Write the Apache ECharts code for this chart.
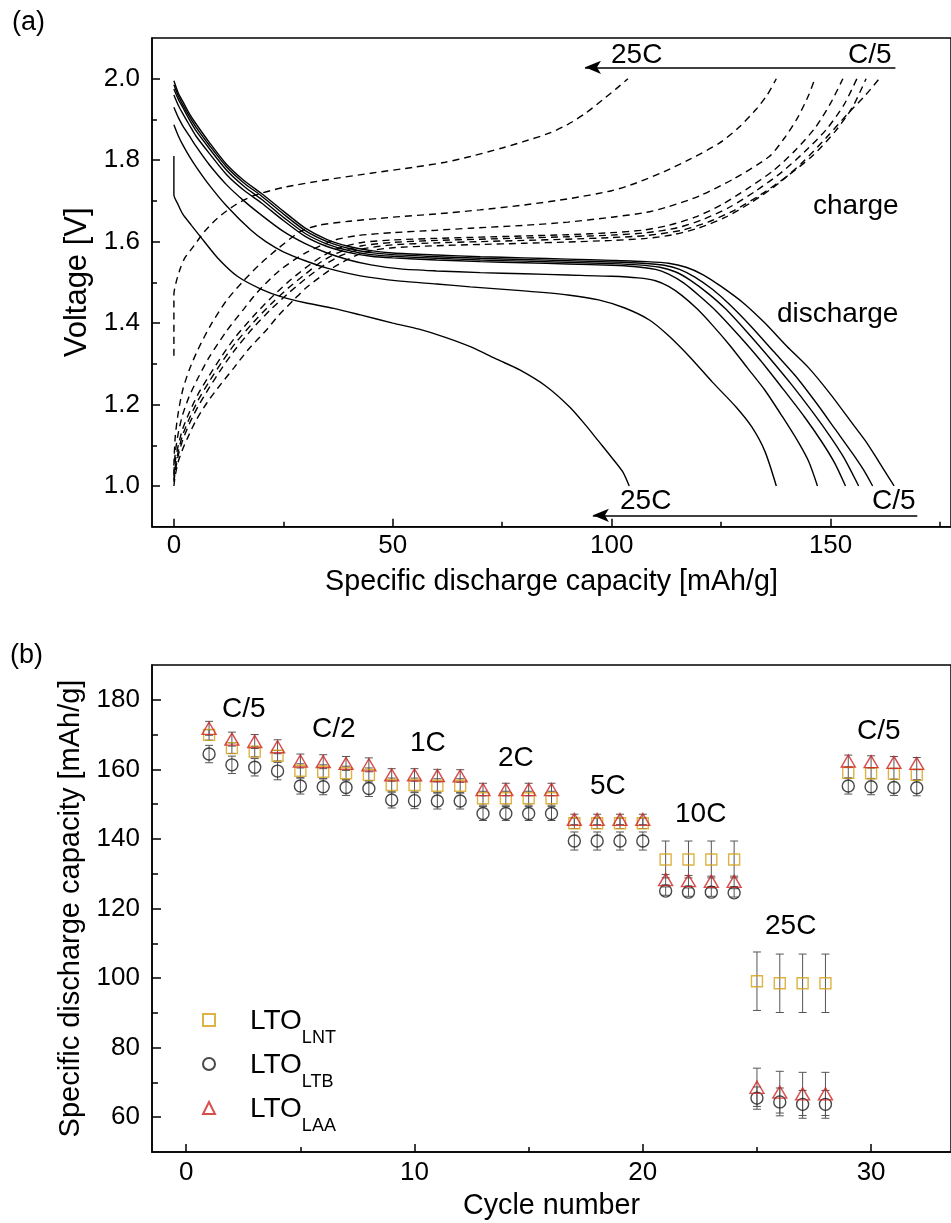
<!DOCTYPE html>
<html>
<head>
<meta charset="utf-8">
<script src="https://cdn.jsdelivr.net/npm/echarts@6/dist/echarts.min.js"></script>
<style>
html,body{margin:0;padding:0;background:#fff;}
#chart{width:951px;height:1223px;}
</style>
</head>
<body>
<div id="chart"></div>
<script>
// ---------- Panel (a): voltage profiles ----------
// discharge curves (solid) [capacity mAh/g, voltage V]
const disC5 = [[0,1.995],[1,1.965],[2,1.945],[3.5,1.915],[5,1.89],[8,1.845],[12,1.79],[16,1.75],[20,1.718],[25,1.675],[30,1.633],[35,1.605],[40,1.588],[45,1.578],[50,1.572],[60,1.567],[70,1.563],[80,1.56],[90,1.557],[100,1.554],[108,1.551],[113,1.547],[117,1.537],[121,1.518],[125,1.49],[130,1.45],[135,1.4],[140,1.343],[145,1.29],[150,1.225],[155,1.153],[158,1.11],[161,1.06],[164.5,1.0]];
const disC2 = [[0,1.985],[1,1.958],[2,1.937],[3.5,1.908],[5,1.882],[8,1.838],[12,1.784],[16,1.744],[20,1.712],[25,1.668],[30,1.627],[35,1.6],[40,1.583],[45,1.573],[50,1.568],[60,1.563],[70,1.559],[80,1.556],[90,1.553],[100,1.55],[107,1.547],[112,1.542],[115.5,1.532],[119,1.513],[123,1.483],[127,1.445],[132,1.39],[137,1.33],[142,1.27],[147,1.2],[151,1.14],[155,1.08],[157.5,1.04],[159.6,1.0]];
const dis1C = [[0,1.975],[1,1.95],[2,1.93],[3.5,1.9],[5,1.873],[8,1.83],[12,1.776],[16,1.736],[20,1.704],[25,1.66],[30,1.62],[35,1.594],[40,1.578],[45,1.568],[50,1.564],[60,1.559],[70,1.555],[80,1.552],[90,1.549],[100,1.546],[106,1.543],[111,1.537],[114.5,1.526],[118,1.505],[122,1.473],[126,1.435],[131,1.377],[136,1.315],[141,1.25],[146,1.18],[150,1.12],[153,1.07],[156.4,1.0]];
const dis2C = [[0,1.96],[1,1.935],[2,1.915],[3.5,1.887],[5,1.86],[8,1.818],[12,1.765],[16,1.726],[20,1.695],[25,1.652],[30,1.613],[35,1.588],[40,1.573],[45,1.564],[50,1.56],[60,1.555],[70,1.551],[80,1.548],[90,1.545],[100,1.542],[105,1.539],[110,1.532],[113,1.52],[116.5,1.498],[120,1.467],[124,1.428],[129,1.37],[134,1.308],[139,1.24],[144,1.17],[148,1.108],[151,1.055],[153.4,1.0]];
const dis5C = [[0,1.93],[1,1.905],[2,1.885],[3.5,1.86],[5,1.835],[8,1.79],[12,1.74],[16,1.7],[20,1.665],[25,1.625],[30,1.595],[35,1.572],[40,1.555],[45,1.543],[51.7,1.533],[60,1.528],[70,1.524],[80,1.521],[90,1.518],[100,1.515],[106,1.511],[110,1.504],[113,1.49],[116,1.468],[119.5,1.435],[123,1.395],[127,1.345],[131,1.29],[135,1.235],[139,1.17],[142.5,1.11],[145,1.06],[147,1.0]];
const dis10C = [[0,1.887],[1,1.86],[2,1.838],[3.5,1.81],[5,1.785],[8,1.74],[12,1.688],[17.5,1.629],[21,1.6],[25,1.575],[30,1.553],[35,1.535],[42.6,1.516],[51.7,1.503],[60,1.496],[67.7,1.489],[80,1.479],[90,1.469],[97,1.457],[103,1.437],[108.7,1.407],[113.2,1.367],[118,1.315],[123,1.255],[128.4,1.194],[132,1.145],[135,1.085],[137.6,1.0]];
const dis25C = [[0,1.81],[0,1.715],[1,1.69],[2,1.668],[4,1.64],[6,1.613],[10,1.56],[14.5,1.515],[20,1.483],[25,1.463],[30,1.45],[36.5,1.436],[42.6,1.42],[50,1.4],[56,1.385],[62,1.365],[67.7,1.342],[74,1.31],[79,1.285],[85,1.245],[90.4,1.194],[94,1.15],[97,1.11],[100,1.07],[102.5,1.035],[104,1.0]];
// charge curves (dashed)
const chC5 = [[0,1.0],[0.3,1.025],[1,1.06],[2,1.09],[3,1.115],[5,1.16],[7.6,1.205],[10,1.24],[13.7,1.29],[17,1.335],[21.3,1.385],[24,1.42],[27.4,1.457],[30,1.485],[33.5,1.514],[36.5,1.537],[39.5,1.555],[42.5,1.57],[45.6,1.579],[50,1.585],[60,1.59],[70,1.593],[80,1.596],[90,1.599],[100,1.603],[108,1.608],[114,1.617],[120,1.634],[126,1.66],[132,1.697],[138,1.742],[143.6,1.795],[149,1.855],[154,1.915],[158,1.96],[161.1,2.0]];
const chC2 = [[0,1.01],[0.3,1.035],[1,1.075],[2,1.112],[3.5,1.152],[5.5,1.195],[8,1.24],[11,1.29],[14,1.335],[18,1.387],[22,1.432],[26,1.472],[30,1.508],[34,1.54],[38,1.565],[43,1.582],[50,1.592],[60,1.597],[70,1.6],[80,1.603],[90,1.606],[100,1.61],[108,1.615],[116,1.628],[122,1.648],[128,1.677],[134,1.715],[140,1.76],[146,1.812],[151,1.87],[155,1.93],[158.1,2.0]];
const ch1C = [[0,1.015],[0.3,1.045],[1,1.085],[2,1.125],[3.5,1.165],[5.5,1.21],[8,1.255],[11,1.305],[14,1.35],[18,1.4],[22,1.445],[26,1.485],[30,1.52],[34,1.553],[38,1.575],[43,1.59],[50,1.598],[60,1.603],[70,1.606],[80,1.609],[90,1.612],[100,1.616],[108,1.622],[115,1.634],[121,1.655],[127,1.685],[133,1.725],[139,1.772],[144,1.82],[149,1.875],[153,1.935],[156,2.0]];
const ch2C = [[0,1.025],[0.3,1.06],[1,1.1],[2,1.14],[3.5,1.18],[5.5,1.225],[8,1.27],[11,1.32],[14,1.365],[18,1.415],[22,1.46],[26,1.5],[30,1.535],[34,1.565],[38,1.585],[43,1.598],[50,1.604],[60,1.608],[70,1.611],[80,1.614],[90,1.617],[100,1.622],[107,1.628],[113,1.64],[119,1.66],[125,1.69],[131,1.73],[137,1.775],[142,1.825],[146.5,1.88],[150,1.94],[152.8,2.0]];
const ch5C = [[0,1.03],[0.3,1.08],[1,1.13],[2,1.175],[3.5,1.22],[5.5,1.265],[8,1.315],[12,1.38],[16,1.435],[19,1.475],[24,1.528],[30,1.572],[36.5,1.603],[42,1.615],[50,1.622],[60,1.628],[67.7,1.633],[80,1.64],[90,1.648],[100,1.66],[108,1.672],[113,1.686],[120,1.712],[128,1.755],[136,1.809],[139.5,1.855],[142.5,1.905],[145,1.96],[146.4,2.0]];
const ch10C = [[0,1.05],[0.3,1.12],[1,1.18],[2,1.235],[3.5,1.285],[5.5,1.335],[8.4,1.395],[12,1.455],[16,1.505],[20,1.548],[24,1.585],[28.9,1.625],[33,1.64],[40,1.65],[50,1.66],[60,1.668],[69.9,1.678],[80,1.69],[90,1.705],[100,1.725],[105.6,1.744],[112,1.772],[118,1.803],[124.6,1.842],[129,1.88],[133,1.925],[135.5,1.96],[137.6,2.0]];
const ch25C = [[0,1.32],[0,1.47],[0.5,1.5],[1.5,1.535],[2.5,1.56],[4.6,1.59],[7,1.625],[10,1.658],[14,1.69],[18,1.712],[25,1.733],[35,1.752],[45,1.768],[55,1.783],[62,1.795],[67.7,1.809],[75,1.83],[80,1.846],[85.9,1.867],[90,1.888],[94,1.915],[98,1.949],[101,1.975],[103.7,2.0]];
const dischargeCurves = [disC5, disC2, dis1C, dis2C, dis5C, dis10C, dis25C];
const chargeCurves = [chC5, chC2, ch1C, ch2C, ch5C, ch10C, ch25C];
const aXMajor = [0, 50, 100, 150];
const aXMinor = [25, 75, 125, 175];
const aYMajor = [1.0, 1.2, 1.4, 1.6, 1.8, 2.0];
const aYMinor = [1.1, 1.3, 1.5, 1.7, 1.9];

// ---------- Panel (b): rate capability ----------
const cycles = [1,2,3,4,5,6,7,8,9,10,11,12,13,14,15,16,17,18,19,20,21,22,23,24,25,26,27,28,29,30,31,32];
const lnt = [169.9,166.1,165.1,163.9,159.6,159.3,158.9,158.4,155.5,155.5,155.3,155.3,151.7,151.7,151.7,151.7,144.5,144.5,144.5,144.5,134.1,134.1,134.1,134.1,99.1,98.5,98.5,98.5,159.0,158.9,158.7,158.4];
const lntErr = [1.5,1.5,1.5,1.5,2,2,2,2,2,2,2,2,2,2,2,2,1.5,1.5,1.5,1.5,5.3,5.3,5.3,5.3,8.4,8.4,8.4,8.4,1.5,1.5,1.5,1.5];
const ltb = [164.4,161.3,160.6,159.5,155.2,155.0,154.8,154.5,151.2,151.0,150.9,150.9,147.3,147.3,147.3,147.3,139.4,139.4,139.4,139.4,125.0,124.7,124.7,124.5,65.5,64.4,63.7,63.7,155.2,155.0,154.8,154.7];
const ltbErr = [2.5,2.5,2.5,2.5,2.3,2.3,2.3,2.3,2.3,2.3,2.3,2.3,2,2,2,2,2.6,2.6,2.6,2.6,1.2,1.2,1.2,1.2,3.2,4,4,4,2.3,2.3,2.3,2.3];
const laa = [171.8,168.7,168.0,166.5,162.4,162.2,161.7,161.3,158.4,158.4,158.2,158.1,154.2,154.2,154.2,154.2,145.6,145.6,145.6,145.6,128.3,128.0,127.8,127.8,68.6,67.2,66.7,66.7,162.4,162.2,162.0,161.7];
const laaErr = [2,2,2,2,2,2,2,2,1.8,1.8,1.8,1.8,1.8,1.8,1.8,1.8,1.5,1.5,1.5,1.5,1.5,1.5,1.5,1.5,5.5,6,6.2,6.2,1.7,1.7,1.7,1.7];
const bXMajor = [0, 10, 20, 30];
const bXMinor = [5, 15, 25];
const bYMajor = [60, 80, 100, 120, 140, 160, 180];
const bYMinor = [70, 90, 110, 130, 150, 170];
const seriesNames = ['LTO_LNT', 'LTO_LTB', 'LTO_LAA'];

const FONT = '"Liberation Sans", Arial, sans-serif';
const BLACK = '#000';
const tickLine = {color: BLACK, width: 1.5};

function toPairs(xs, ys) { return xs.map((x, i) => [x, ys[i]]); }
function toErr(xs, ys, es) { return xs.map((x, i) => [x, ys[i] - es[i], ys[i] + es[i]]); }

function errItem(params, api) {
  const x = api.value(0), lo = api.value(1), hi = api.value(2);
  const a = api.coord([x, hi]), b = api.coord([x, lo]);
  const w = 4;
  const st = {stroke: '#555', lineWidth: 1};
  return {type: 'group', children: [
    {type: 'line', shape: {x1: a[0], y1: a[1], x2: b[0], y2: b[1]}, style: st},
    {type: 'line', shape: {x1: a[0] - w, y1: a[1], x2: a[0] + w, y2: a[1]}, style: st},
    {type: 'line', shape: {x1: b[0] - w, y1: b[1], x2: b[0] + w, y2: b[1]}, style: st}
  ]};
}

function majorX(grid, min, max, vals, name, gap, labelMargin) {
  return {gridIndex: grid, type: 'value', position: 'bottom', min: min, max: max,
    axisLine: {show: true, onZero: false, lineStyle: tickLine},
    axisTick: {show: true, inside: true, length: 8, customValues: vals, lineStyle: tickLine},
    axisLabel: {show: true, customValues: vals, fontSize: 26, color: BLACK, fontFamily: FONT, margin: labelMargin},
    splitLine: {show: false},
    name: name, nameLocation: 'middle', nameGap: gap,
    nameTextStyle: {fontSize: 28.7, color: BLACK, fontFamily: FONT}};
}
function minorX(grid, min, max, vals, len) {
  return {gridIndex: grid, type: 'value', position: 'bottom', min: min, max: max,
    axisLine: {show: false, onZero: false},
    axisTick: {show: true, inside: true, length: len, customValues: vals, lineStyle: tickLine},
    axisLabel: {show: false}, splitLine: {show: false}};
}
function majorY(grid, min, max, vals, name, gap, fmt, len, nameSize) {
  return {gridIndex: grid, type: 'value', position: 'left', min: min, max: max,
    axisLine: {show: true, onZero: false, lineStyle: tickLine},
    axisTick: {show: true, inside: true, length: len, customValues: vals, lineStyle: tickLine},
    axisLabel: {show: true, customValues: vals, fontSize: 26, color: BLACK, fontFamily: FONT, margin: 12, formatter: fmt},
    splitLine: {show: false},
    name: name, nameLocation: 'middle', nameGap: gap,
    nameTextStyle: {fontSize: nameSize, color: BLACK, fontFamily: FONT}};
}
function minorY(grid, min, max, vals, len) {
  return {gridIndex: grid, type: 'value', position: 'left', min: min, max: max,
    axisLine: {show: false, onZero: false},
    axisTick: {show: true, inside: true, length: len, customValues: vals, lineStyle: tickLine},
    axisLabel: {show: false}, splitLine: {show: false}};
}

const series = [];
dischargeCurves.forEach((c, i) => {
  const s = {type: 'line', xAxisIndex: 0, yAxisIndex: 0, data: c, symbol: 'none', smooth: 0.25,
    lineStyle: {color: BLACK, width: 1.4}, silent: true, z: 3};
  if (i === 0) {
    s.markLine = {silent: true, symbol: ['none', 'arrow'], symbolSize: [10, 16],
      lineStyle: {color: BLACK, width: 1.5, type: 'solid'}, label: {show: false},
      data: [
        [{coord: [164.8, 2.028]}, {coord: [93.9, 2.028]}],
        [{coord: [169.8, 0.928]}, {coord: [95.7, 0.928]}]
      ]};
  }
  series.push(s);
});
chargeCurves.forEach(c => {
  series.push({type: 'line', xAxisIndex: 0, yAxisIndex: 0, data: c, symbol: 'none', smooth: 0.25,
    lineStyle: {color: BLACK, width: 1.4, type: [7, 5]}, silent: true, z: 3});
});

const bSets = [
  {name: seriesNames[0], y: lnt, e: lntErr, color: '#D4A017', symbol: 'rect', size: 11},
  {name: seriesNames[1], y: ltb, e: ltbErr, color: '#1a1a1a', symbol: 'circle', size: 12},
  {name: seriesNames[2], y: laa, e: laaErr, color: '#D02222', symbol: 'triangle', size: [14, 12]}
];
bSets.forEach(s => {
  series.push({type: 'custom', name: 'err_' + s.name, xAxisIndex: 2, yAxisIndex: 2,
    renderItem: errItem, encode: {x: 0, y: [1, 2]}, data: toErr(cycles, s.y, s.e), z: 2, silent: true});
});
bSets.forEach(s => {
  series.push({type: 'scatter', name: s.name, xAxisIndex: 2, yAxisIndex: 2,
    data: toPairs(cycles, s.y), symbol: s.symbol, symbolSize: s.size,
    itemStyle: {color: 'rgba(0,0,0,0)', borderColor: s.color, borderWidth: 1.4}, z: 4, silent: true});
});

function txt(t, x, y, size) {
  return {type: 'text', x: x, y: y, silent: true,
    style: {text: t, font: (size || 28) + 'px ' + FONT, fill: BLACK, textAlign: 'left', textVerticalAlign: 'middle'}};
}

const option = {
  animation: false,
  backgroundColor: '#fff',
  textStyle: {fontFamily: FONT},
  grid: [
    {left: 152, top: 38, right: -1, height: 488.7, show: true, borderColor: BLACK, borderWidth: 1.5, backgroundColor: 'transparent'},
    {left: 152, top: 665, right: -1, height: 487, show: true, borderColor: BLACK, borderWidth: 1.5, backgroundColor: 'transparent'}
  ],
  xAxis: [
    majorX(0, -5, 177.5, aXMajor, 'Specific discharge capacity [mAh/g]', 41, 6),
    minorX(0, -5, 177.5, aXMinor, 5),
    majorX(1, -1.5, 33.5, bXMajor, 'Cycle number', 40, 8),
    minorX(1, -1.5, 33.5, bXMinor, 5)
  ],
  yAxis: [
    majorY(0, 0.9, 2.1, aYMajor, 'Voltage [V]', 56, v => Number(v).toFixed(1), 8, 31),
    minorY(0, 0.9, 2.1, aYMinor, 5),
    majorY(1, 50, 190, bYMajor, 'Specific discharge capacity [mAh/g]', 56, v => String(v), 9, 29),
    minorY(1, 50, 190, bYMinor, 6)
  ],
  legend: {
    data: seriesNames, orient: 'vertical', left: 202, top: 1007, padding: 0,
    itemWidth: 12, itemHeight: 12, itemGap: 4,
    formatter: n => '{m|LTO}{s|' + n.split('_')[1] + '}',
    textStyle: {color: BLACK, fontFamily: FONT, rich: {
      m: {fontSize: 28, lineHeight: 26, padding: [0, 0, 0, 30], verticalAlign: 'top', color: BLACK, fontFamily: FONT},
      s: {fontSize: 18, lineHeight: 12, padding: [22, 0, 0, 0], verticalAlign: 'top', color: BLACK, fontFamily: FONT}
    }}
  },
  series: series,
  graphic: [
    txt('(a)', 12, 23, 27),
    txt('(b)', 10, 656, 27),
    txt('25C', 611, 55), txt('C/5', 848, 55),
    txt('25C', 620, 501), txt('C/5', 872, 501),
    txt('charge', 813, 206), txt('discharge', 777, 314),
    txt('C/5', 222, 709), txt('C/2', 312, 729), txt('1C', 410, 743), txt('2C', 498, 758),
    txt('5C', 590, 786), txt('10C', 675, 814), txt('25C', 765, 926), txt('C/5', 857, 731)
  ]
};

const chart = echarts.init(document.getElementById('chart'), null, {renderer: 'canvas'});
chart.setOption(option);
</script>
</body>
</html>
